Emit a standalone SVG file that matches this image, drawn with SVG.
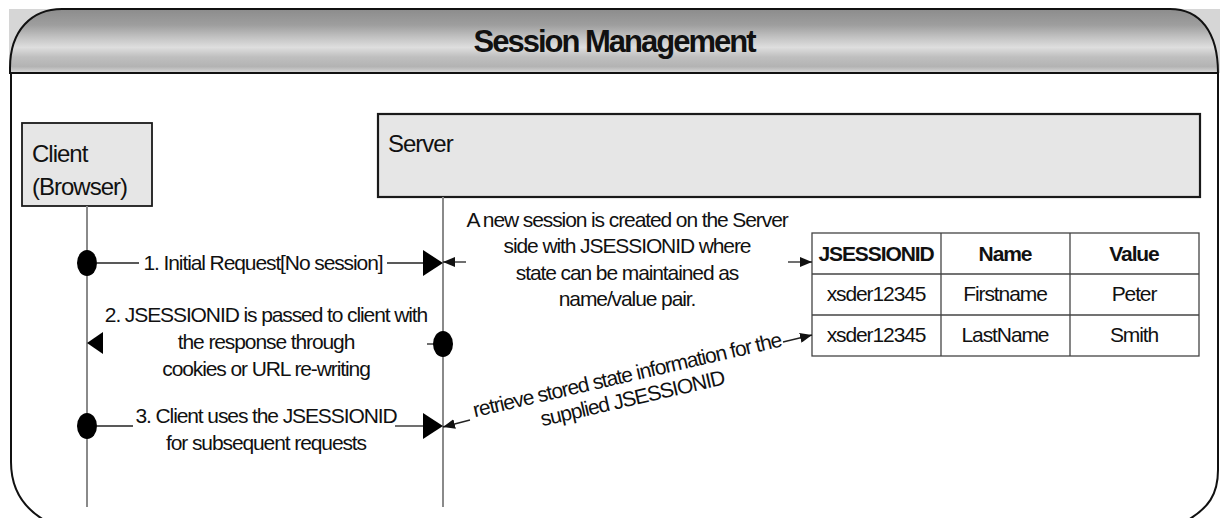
<svg xmlns="http://www.w3.org/2000/svg" width="1220" height="518" viewBox="0 0 1220 518">
<style>
text{font-family:"Liberation Sans",Arial,sans-serif;fill:#111}
.t{font-size:21px;letter-spacing:-1.1px}
.b{font-weight:bold}
.lbl{font-size:24px;letter-spacing:-1px}
.box{fill:#e6e6e6;stroke:#1a1a1a;stroke-width:1.8}
.life{stroke:#8a8a8a;stroke-width:2}
.msg{stroke:#222;stroke-width:1.3;fill:none}
.grid{stroke:#444;stroke-width:1.3;fill:none}
.frame{stroke:#111;stroke-width:2;fill:none}
</style>
<defs>
<linearGradient id="hdr" x1="0" y1="0" x2="0" y2="1">
<stop offset="0" stop-color="#8c8c8c"/>
<stop offset="0.25" stop-color="#9e9e9e"/>
<stop offset="0.45" stop-color="#c4c4c4"/>
<stop offset="0.6" stop-color="#dedede"/>
<stop offset="0.75" stop-color="#bfbfbf"/>
<stop offset="0.9" stop-color="#b3b3b3"/>
<stop offset="1" stop-color="#dadada"/>
</linearGradient>
<marker id="ah" viewBox="0 0 12 10" refX="12" refY="5" markerWidth="12" markerHeight="10" markerUnits="userSpaceOnUse" orient="auto">
<path d="M0,0 L12,5 L0,10 Z" fill="#111"/>
</marker>
</defs>
<rect width="1220" height="518" fill="#fff"/>
<g id="frame">
<rect x="9" y="9" width="1211" height="64" fill="#d6d6d6"/>
<path d="M10,73 L10,68 C10,30 32,9 62,9 L1170,9 C1200,9 1218,32 1218,73 Z" fill="url(#hdr)" stroke="#111" stroke-width="2"/>
<line x1="10" y1="73" x2="1218" y2="73" stroke="#111" stroke-width="2.2"/>
<path class="frame" d="M11,73 L11,462 C11,490 24,508 44,520"/>
<path class="frame" d="M1218,73 L1218,470 C1218,495 1208,508 1188,520"/>
<text x="614" y="52" text-anchor="middle" class="b" style="font-size:31px;letter-spacing:-2px">Session Management</text>
</g>
<g id="client">
<rect class="box" x="22" y="123" width="130" height="83"/>
<text class="lbl" x="32" y="162">Client</text>
<text class="lbl" x="32" y="195">(Browser)</text>
</g>
<g id="server">
<rect class="box" x="378" y="114" width="822" height="83" style="stroke-width:2.2"/>
<text class="lbl" x="388" y="152">Server</text>
</g>
<g id="lifelines">
<line class="life" x1="87" y1="206" x2="87" y2="507"/>
<line class="life" x1="443" y1="197" x2="443" y2="507"/>
</g>
<g id="table">
<rect class="grid" x="812" y="233" width="387" height="123"/>
<line class="grid" x1="812" y1="274" x2="1199" y2="274"/>
<line class="grid" x1="812" y1="315" x2="1199" y2="315"/>
<line class="grid" x1="941" y1="233" x2="941" y2="356"/>
<line class="grid" x1="1070" y1="233" x2="1070" y2="356"/>
<g class="t" text-anchor="middle">
<text class="b" x="876" y="261">JSESSIONID</text>
<text class="b" x="1005" y="261">Name</text>
<text class="b" x="1134" y="261">Value</text>
<text x="876" y="301">xsder12345</text>
<text x="1005" y="301">Firstname</text>
<text x="1134" y="301">Peter</text>
<text x="876" y="342">xsder12345</text>
<text x="1005" y="342">LastName</text>
<text x="1134" y="342">Smith</text>
</g>
</g>
<g id="connectors">
<ellipse cx="87" cy="263" rx="10" ry="13" fill="#000"/>
<line class="msg" x1="97" y1="263" x2="139" y2="263"/>
<line class="msg" x1="387" y1="263" x2="425" y2="263"/>
<polygon points="423,250 443,263 423,276" fill="#000"/>
<line class="msg" x1="466" y1="262" x2="443" y2="262" marker-end="url(#ah)"/>
<line class="msg" x1="788" y1="262" x2="812" y2="262" marker-end="url(#ah)"/>
<polygon points="87,343 103,332 103,354" fill="#000"/>
<line class="msg" x1="427" y1="344" x2="435" y2="344"/>
<ellipse cx="443" cy="344" rx="10" ry="13" fill="#000"/>
<ellipse cx="87" cy="426" rx="10" ry="13" fill="#000"/>
<line class="msg" x1="97" y1="426" x2="133" y2="426"/>
<line class="msg" x1="395" y1="426" x2="425" y2="426"/>
<polygon points="423,413 443,426 423,439" fill="#000"/>
<line class="msg" x1="470" y1="420" x2="443" y2="427" marker-end="url(#ah)"/>
<line class="msg" x1="783" y1="342" x2="812" y2="335" marker-end="url(#ah)"/>
</g>
<g id="labels" class="t" text-anchor="middle">
<text x="263" y="270">1. Initial Request[No session]</text>
<text x="627" y="227">A new session is created on the Server</text>
<text x="627" y="253">side with JSESSIONID where</text>
<text x="627" y="280">state can be maintained as</text>
<text x="627" y="306">name/value pair.</text>
<text x="266" y="322">2. JSESSIONID is passed to client with</text>
<text x="266" y="349">the response through</text>
<text x="266" y="376">cookies or URL re-writing</text>
<text x="266" y="423">3. Client uses the JSESSIONID</text>
<text x="266" y="450">for subsequent requests</text>
<g transform="translate(627,375) rotate(-13)">
<text x="0" y="7">retrieve stored state information for the</text>
<text x="0" y="31">supplied JSESSIONID</text>
</g>
</g>
</svg>
